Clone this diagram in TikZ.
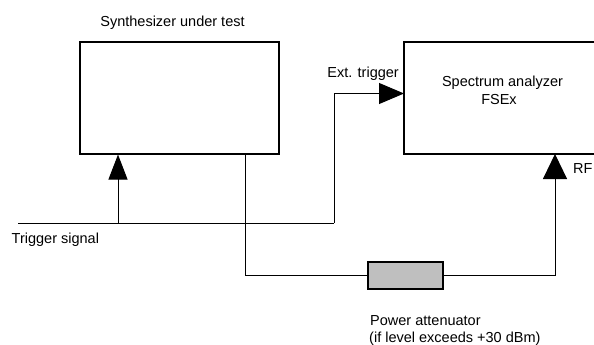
\documentclass[tikz,border=0pt]{standalone}
\usepackage{fontspec}
\setmainfont{Liberation Sans}
\usetikzlibrary{arrows.meta}
\begin{document}
\begin{tikzpicture}[x=1pt,y=-1pt,
  box/.style={draw=black,line width=1.1pt,minimum width=#1,inner sep=0pt},
  wire/.style={draw=black,line width=1pt},
  arr/.style={wire,-{Triangle[length=25pt,width=#1]}},
  arr/.default=20pt,
  lbl/.style={inner sep=0pt,font=\fontsize{14.5}{17}\selectfont}]
\useasboundingbox (0,0) rectangle (594,345);
\clip (0,0) rectangle (594,345);
% boxes
\node[box=199pt,minimum height=112pt] (synth) at (179.5,98) {};
\node[box=200pt,minimum height=112pt] (spec) at (504,98) {};
\node[draw=black,line width=2pt,fill=black!25,minimum width=75pt,minimum height=27pt,inner sep=0pt] (att) at (405.5,275.5) {};
% coordinates
\coordinate (tstart) at (18,223);
\coordinate (tj) at (118,223);
\coordinate (tcorner) at (334,223);
\coordinate (extin) at (404,93.5);
\coordinate (sout) at (245,154);
\coordinate (rfin) at (555,154);
% connectors
\draw[wire] (tstart) -- (tcorner);
\draw[arr=19pt] (tj) -- (tj |- synth.south);
\draw[arr=21pt] (tcorner) |- (extin);
\draw[wire] (sout) |- (att.west);
\draw[arr=24pt] (att.east) -| (rfin);
% labels
\node[lbl,anchor=base] (lsynth) at (172.5,27) {Synthesizer under test};
\node[lbl,anchor=base east] (lext) at (399,77.5) {Ext. trigger};
\node[lbl,anchor=base] (lspec1) at (502.5,86) {Spectrum analyzer};
\node[lbl,anchor=base] (lspec2) at (499,104.5) {FSEx};
\node[lbl,anchor=base west] (lrf) at (573,173) {RF};
\node[lbl,anchor=base west] (ltrig) at (11.5,243) {Trigger signal};
\node[lbl,anchor=base west] (latt1) at (370,325) {Power attenuator};
\node[lbl,anchor=base west] (latt2) at (369,342) {(if level exceeds +30 dBm)};
\end{tikzpicture}
\end{document}
